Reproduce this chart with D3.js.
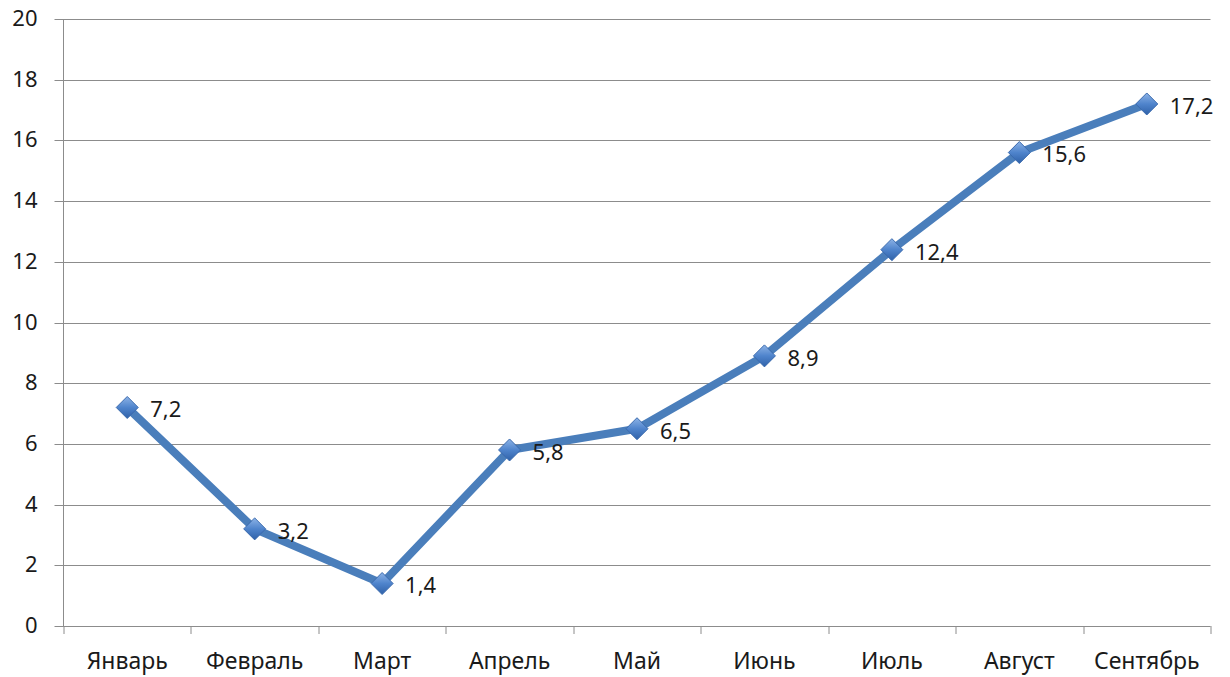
<!DOCTYPE html>
<html>
<head>
<meta charset="utf-8">
<script src="https://cdn.jsdelivr.net/npm/d3@7"></script>
<style>
  body { margin: 0; background: #fff; }
  text { font-family: "Noto Sans", "DejaVu Sans", sans-serif; fill: #1a1a1a; }
</style>
</head>
<body>
<div id="chart"></div>
<script>
const months = ["Январь", "Февраль", "Март", "Апрель", "Май", "Июнь", "Июль", "Август", "Сентябрь"];
const values = [7.2, 3.2, 1.4, 5.8, 6.5, 8.9, 12.4, 15.6, 17.2];
const y_ticks = [0, 2, 4, 6, 8, 10, 12, 14, 16, 18, 20];

const W = 1230, H = 677;
const margin = {top: 19, right: 19.5, bottom: 51, left: 63.5};
const width = W - margin.left - margin.right;
const height = H - margin.top - margin.bottom;

const svg = d3.select("#chart").append("svg")
  .attr("width", W)
  .attr("height", H);

const defs = svg.append("defs");
const grad = defs.append("linearGradient")
  .attr("id", "mk")
  .attr("x1", 0).attr("y1", 0).attr("x2", 0).attr("y2", 1);
grad.append("stop").attr("offset", "0%").attr("stop-color", "#8db3e6");
grad.append("stop").attr("offset", "50%").attr("stop-color", "#4f84cc");
grad.append("stop").attr("offset", "100%").attr("stop-color", "#2f61a8");

const g = svg.append("g")
  .attr("transform", "translate(" + margin.left + "," + margin.top + ")");

let x = d3.scaleBand().domain(months).range([0, width]).padding(0);
let y = d3.scaleLinear().domain([0, 20]).range([height, 0]);

// gridlines
g.append("g")
  .selectAll("line")
  .data(y_ticks)
  .enter().append("line")
  .attr("x1", -9).attr("x2", width)
  .attr("y1", d => Math.round(y(d)) + 0.5)
  .attr("y2", d => Math.round(y(d)) + 0.5)
  .attr("stroke", "#8c8c8c")
  .attr("stroke-width", 1);

// y labels
g.append("g")
  .selectAll("text")
  .data(y_ticks)
  .enter().append("text")
  .attr("x", -26)
  .attr("y", d => y(d))
  .attr("dy", "0.32em")
  .attr("text-anchor", "end")
  .attr("font-size", 22)
  .text(d => d);

// y axis line
g.append("line")
  .attr("x1", 0).attr("x2", 0)
  .attr("y1", 0).attr("y2", height)
  .attr("stroke", "#8c8c8c");

// x ticks at band boundaries
let bounds = months.map(m => x(m)).concat([width]);
g.append("g")
  .selectAll("line")
  .data(bounds)
  .enter().append("line")
  .attr("x1", d => Math.round(d) + 0.5).attr("x2", d => Math.round(d) + 0.5)
  .attr("y1", height).attr("y2", height + 8)
  .attr("stroke", "#8c8c8c");

// x labels
g.append("g")
  .selectAll("text")
  .data(months)
  .enter().append("text")
  .attr("x", d => x(d) + x.bandwidth() / 2)
  .attr("y", height + 35)
  .attr("dy", "0.36em")
  .attr("text-anchor", "middle")
  .attr("font-size", 23)
  .text(d => d);

const pts = months.map((m, i) => ({m: m, v: values[i]}));

let line = d3.line()
  .x(d => x(d.m) + x.bandwidth() / 2)
  .y(d => y(d.v));

g.append("path")
  .datum(pts)
  .attr("d", line)
  .attr("fill", "none")
  .attr("stroke", "#4a7ebb")
  .attr("stroke-width", 8)
  .attr("stroke-linejoin", "round");

// diamond markers
g.append("g")
  .selectAll("path")
  .data(pts)
  .enter().append("path")
  .attr("transform", d => "translate(" + (x(d.m) + x.bandwidth() / 2) + "," + y(d.v) + ")")
  .attr("d", "M0,-11L11,0L0,11L-11,0Z")
  .attr("fill", "url(#mk)")
  .attr("stroke", "#3a6aae")
  .attr("stroke-width", 1);

// data labels
g.append("g")
  .selectAll("text")
  .data(pts)
  .enter().append("text")
  .attr("x", d => x(d.m) + x.bandwidth() / 2 + 23)
  .attr("y", d => y(d.v) + 2)
  .attr("dy", "0.36em")
  .attr("font-size", 22)
  .text(d => String(d.v).replace(".", ","));
</script>
</body>
</html>
